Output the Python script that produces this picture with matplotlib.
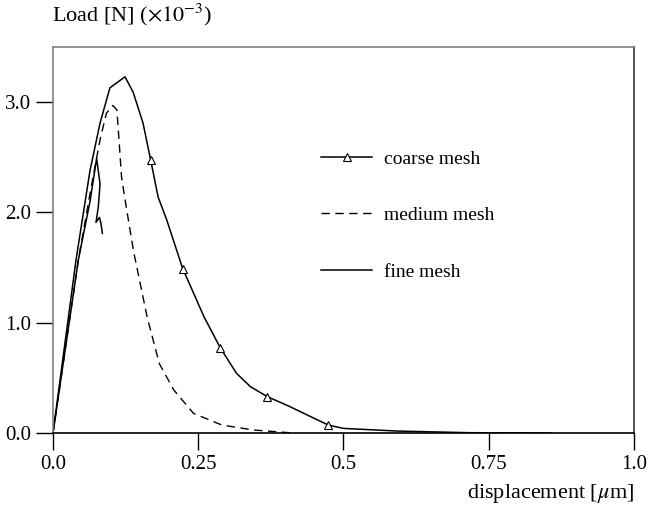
import matplotlib.pyplot as plt

plt.rcParams['font.family'] = ['Liberation Serif', 'DejaVu Serif']
plt.rcParams['mathtext.fontset'] = 'stix'

# coarse mesh (triangles at a few points)
coarse_x = [0, 0.0396, 0.0637, 0.081, 0.098, 0.124, 0.138, 0.155, 0.168, 0.181, 0.196,
            0.2236, 0.2296, 0.260, 0.288, 0.316, 0.340, 0.369, 0.408, 0.474, 0.50,
            0.592, 0.715, 0.857]
coarse_y = [0, 1.568, 2.38, 2.81, 3.13, 3.23, 3.09, 2.81, 2.48, 2.14, 1.93,
            1.486, 1.417, 1.054, 0.773, 0.541, 0.42, 0.33, 0.239, 0.072, 0.042,
            0.018, 0.003, 0.0]
coarse_marks = [8, 11, 14, 17, 19]

# medium mesh
medium_x = [0, 0.0436, 0.0637, 0.081, 0.092, 0.103, 0.110, 0.114, 0.118, 0.127, 0.139,
            0.162, 0.183, 0.208, 0.242, 0.291, 0.346, 0.414]
medium_y = [0, 1.568, 2.17, 2.66, 2.90, 2.97, 2.93, 2.63, 2.32, 2.02, 1.64,
            1.054, 0.63, 0.39, 0.178, 0.072, 0.027, 0.0]

# fine mesh (snap-back)
fine_x = [0, 0.0436, 0.0637, 0.0751, 0.081, 0.078, 0.074, 0.080, 0.0826, 0.085]
fine_y = [0, 1.568, 2.10, 2.49, 2.26, 2.05, 1.91, 1.955, 1.90, 1.81]

labels = ['coarse mesh', 'medium mesh', 'fine mesh']
xticks = [0.0, 0.25, 0.5, 0.75, 1.0]
xticklabels = ['0.0', '0.25', '0.5', '0.75', '1.0']
yticks = [0.0, 1.0, 2.0, 3.0]
yticklabels = ['0.0', '1.0', '2.0', '3.0']

fig = plt.figure(figsize=(6.48, 5.11), dpi=100)
ax = fig.add_axes([0.0818, 0.1526, 0.8962, 0.7554])

ax.plot(coarse_x, coarse_y, color='black', lw=1.1, marker='^', markevery=coarse_marks,
        markersize=6, mfc='white', mec='black', mew=0.8, label=labels[0])
ax.plot(medium_x, medium_y, color='black', lw=1.0, dashes=(6, 4), label=labels[1])
ax.plot(fine_x, fine_y, color='black', lw=1.1, label=labels[2])

ax.set_xlim(0, 1.0)
ax.set_ylim(0, 3.5)
ax.set_xticks(xticks)
ax.set_xticklabels(xticklabels)
ax.set_yticks(yticks)
ax.set_yticklabels(yticklabels)
ax.tick_params(direction='out', length=12, width=1, labelsize=15, pad=4)

ax.spines['left'].set_color('#808080')
ax.spines['top'].set_color('#808080')
ax.spines['bottom'].set_color('black')
ax.spines['right'].set_color('#333333')
for s in ax.spines.values():
    s.set_linewidth(1.2)

leg = ax.legend(loc='upper left', bbox_to_anchor=(0.4445, 0.758), frameon=False,
                fontsize=14, handlelength=2.65, handletextpad=0.6, labelspacing=2.0,
                borderpad=0, numpoints=1)

fig.text(0.0802, 0.945, r'Load [N] ($\times10^{-3}$)', fontsize=16, ha='left', va='bottom')
fig.text(0.978, 0.012, r'displacement [$\mu$m]', fontsize=16, ha='right', va='bottom')

fig.savefig('out.png', dpi=100)
